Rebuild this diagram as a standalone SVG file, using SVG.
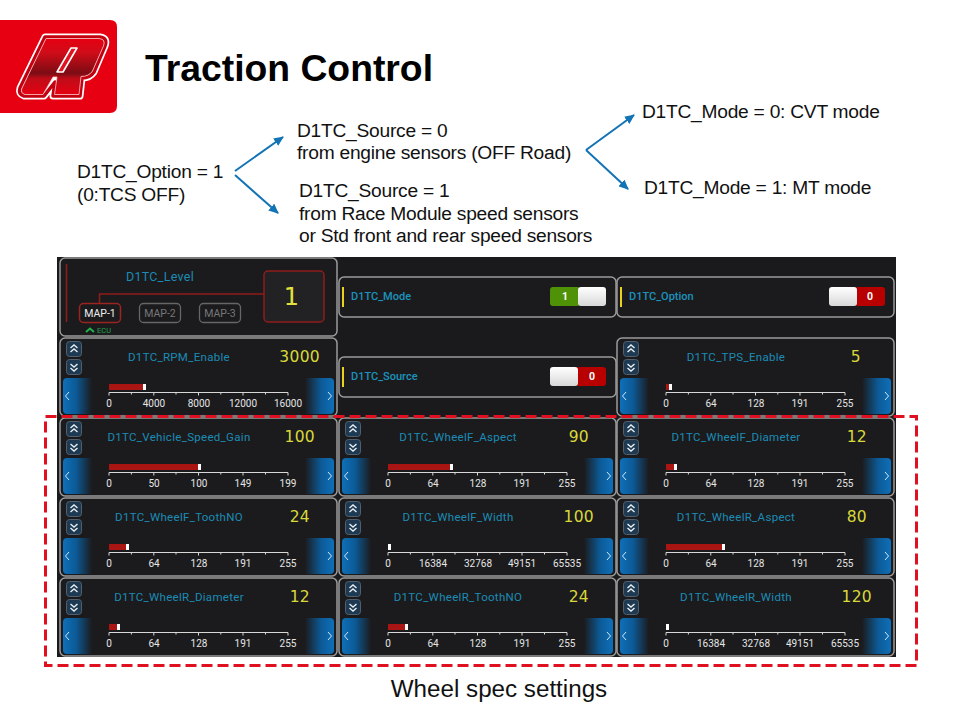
<svg xmlns="http://www.w3.org/2000/svg" width="960" height="720" viewBox="0 0 960 720">
<style>
.h{font-family:"Liberation Sans",Arial,sans-serif;font-size:19.2px;fill:#111;letter-spacing:-.25px}
.n{font-family:Roboto,"Liberation Sans",sans-serif;font-size:11.5px;fill:#1c8bb5;text-anchor:middle;letter-spacing:.3px}
.t{font-family:Roboto,"Liberation Sans",sans-serif;font-size:11px;font-weight:500;fill:#1c93bd}
.v{font-family:"DejaVu Sans",sans-serif;font-size:15.500px;fill:#d9d83a;text-anchor:end;letter-spacing:.3px}
.s{font-family:Roboto,"Liberation Sans",sans-serif;font-size:10px;fill:#e6e6e6;text-anchor:middle}
.f{fill:#1b1b1d;stroke:#9b9b9b;stroke-width:1.5}
.m{font-family:Roboto,"Liberation Sans",sans-serif;font-size:10.5px;text-anchor:middle}
.tg{font-family:Roboto,"Liberation Sans",sans-serif;font-size:10.5px;font-weight:700;fill:#fff;text-anchor:middle}
.bar{fill:#a81512}
.end{fill:#fff}
.arr{fill:none;stroke:#1273b5;stroke-width:2;marker-end:url(#ah)}
</style>
<defs>
<marker id="ah" markerWidth="10" markerHeight="9" refX="9" refY="4.500" orient="auto" markerUnits="userSpaceOnUse"><path d="M0 0L10 4.500L0 9Z" fill="#1273b5"/></marker>
<linearGradient id="gl" x1="0" x2="1" y1="0" y2="0"><stop offset="0" stop-color="#0f6fb8"/><stop offset=".45" stop-color="#0c5a96"/><stop offset="1" stop-color="#0d5a96" stop-opacity="0"/></linearGradient>
<linearGradient id="gr" x1="1" x2="0" y1="0" y2="0"><stop offset="0" stop-color="#0f6fb8"/><stop offset=".45" stop-color="#0c5a96"/><stop offset="1" stop-color="#0d5a96" stop-opacity="0"/></linearGradient>
<linearGradient id="sw" x1="0" x2="0" y1="0" y2="1"><stop offset="0" stop-color="#fff"/><stop offset="1" stop-color="#d8d8d8"/></linearGradient>
<linearGradient id="lg" x1="0" x2="0" y1="0" y2="1"><stop offset="0" stop-color="#e60012"/><stop offset=".25" stop-color="#d00c18"/><stop offset=".62" stop-color="#7c0c14"/><stop offset=".72" stop-color="#c00c18"/><stop offset="1" stop-color="#e60012"/></linearGradient>
<g id="chrome">
<rect class="f" x="0" y="0" width="277" height="78" rx="5"/>
<rect x="6.500" y="3.500" width="15" height="15" rx="3" fill="#1d3a52" stroke="#51606c"/>
<rect x="6.500" y="21.500" width="15" height="15" rx="3" fill="#1d3a52" stroke="#51606c"/>
<path d="M10.500 10L14 7L17.500 10M10.500 14L14 11L17.500 14M10.500 26L14 29L17.500 26M10.500 30L14 33L17.500 30" fill="none" stroke="#e8eef2" stroke-width="1.400"/>
<path d="M3 44Q3 40 7 40H32V76H7Q3 76 3 72Z" fill="url(#gl)"/>
<path d="M274 44Q274 40 270 40H245V76H270Q274 76 274 72Z" fill="url(#gr)"/>
<path d="M9 54L5.500 58L9 62M268 54L271.500 58L268 62" fill="none" stroke="#cfe6f5" stroke-width="1"/>
<path d="M49 54.500H228M49 54.500v3M71.400 54.500v2M93.800 54.500v3M116 54.500v2M138.500 54.500v3M160.800 54.500v2M183 54.500v3M205.500 54.500v2M228 54.500v3" fill="none" stroke="#d8d8d8" stroke-width="1"/>
</g>
</defs>
<rect width="960" height="720" fill="#fff"/>
<g id="logo">
<path d="M0 20H110Q117 20 117 27V106Q117 113 110 113H0Z" fill="#e60012"/>
<path d="M45 37H100Q108 38 105 46L94 72Q90 78 82 78L80 96H53L55 82L44 96H24Q18 94 20 88Z" fill="#fff" stroke="#fff" stroke-width="7" stroke-linejoin="round"/>
<path d="M45 37H100Q108 38 105 46L94 72Q90 78 82 78L80 96H53L55 82L44 96H24Q18 94 20 88Z" fill="#fff" stroke="#c40010" stroke-width="3.500" stroke-linejoin="round"/>
<path d="M46 38.500H99Q106 39 103.500 46L92.500 71Q89 76.500 81 76.500L79 94.500H54.500L57 77H53L43 94.500H25Q20 93 22 88Z" fill="url(#lg)" stroke="#f7c8c8" stroke-width=".8"/>
<path d="M71 48H77L63 72H57Z" fill="#e01420" stroke="#fff" stroke-width="1.600" stroke-linejoin="round"/>
</g>
<text id="title" x="145" y="81" font-family="'Liberation Sans',Arial,sans-serif" font-size="37.300" font-weight="700" fill="#000">Traction Control</text>
<g id="n-option"><text class="h" x="77" y="178">D1TC_Option = 1</text><text class="h" x="77" y="201">(0:TCS OFF)</text></g>
<g id="n-source0"><text class="h" x="297" y="137">D1TC_Source = 0</text><text class="h" x="297" y="159">from engine sensors (OFF Road)</text></g>
<g id="n-source1"><text class="h" x="299" y="197">D1TC_Source = 1</text><text class="h" x="299" y="220">from Race Module speed sensors</text><text class="h" x="299" y="242">or Std front and rear speed sensors</text></g>
<g id="n-mode0"><text class="h" x="642" y="118">D1TC_Mode = 0: CVT mode</text></g>
<g id="n-mode1"><text class="h" x="644" y="194">D1TC_Mode = 1: MT mode</text></g>
<g id="connectors">
<path class="arr" d="M235 171L283 137"/>
<path class="arr" d="M235 175L278 213"/>
<path class="arr" d="M586 150L634 115"/>
<path class="arr" d="M586 150L628 189"/>
</g>
<rect id="screen" x="57" y="257" width="839" height="400" fill="#1a1a1c"/>
<g id="p-level">
<rect class="f" x="60" y="258" width="277" height="78" rx="5"/>
<path d="M66.500 264V322M264 294H99.500V303" fill="none" stroke="#8f1d1a" stroke-width="1.500"/>
<rect x="264" y="271" width="60" height="51" rx="4" fill="#222224" stroke="#8f1d1a" stroke-width="1.500"/>
<rect x="79.500" y="303.500" width="41" height="19" rx="4" fill="#1b1b1d" stroke="#9c2420" stroke-width="1.500"/>
<rect x="139.500" y="303.500" width="41" height="19" rx="4" fill="#1b1b1d" stroke="#666" stroke-width="1.300"/>
<rect x="199.500" y="303.500" width="41" height="19" rx="4" fill="#1b1b1d" stroke="#666" stroke-width="1.300"/>
<text class="n" x="160" y="281" style="font-size:12.500px">D1TC_Level</text>
<text class="v" x="299" y="305" style="font-size:24px;fill:#e3e23c;letter-spacing:0">1</text>
<text class="m" x="100" y="317" fill="#eee">MAP-1</text>
<text class="m" x="160" y="317" fill="#777">MAP-2</text>
<text class="m" x="220" y="317" fill="#777">MAP-3</text>
<path d="M86 332L90 328.500L94 332" fill="none" stroke="#22b24c" stroke-width="2"/>
<text x="97" y="333" font-family="Roboto,sans-serif" font-size="7.500" fill="#22a24c">ECU</text>
</g>
<g id="p-mode">
<rect class="f" x="339" y="277" width="277" height="40" rx="5"/>
<rect x="342" y="287" width="2" height="20" fill="#e8d21d"/>
<text class="t" x="351" y="300">D1TC_Mode</text>
<rect x="550" y="287" width="30" height="19" rx="3" fill="#4f9208"/>
<rect x="578" y="287" width="28" height="19" rx="3" fill="url(#sw)"/>
<text class="tg" x="565" y="300">1</text>
</g>
<g id="p-option">
<rect class="f" x="617" y="277" width="277" height="40" rx="5"/>
<rect x="620" y="287" width="2" height="20" fill="#e8d21d"/>
<text class="t" x="629" y="300">D1TC_Option</text>
<rect x="855" y="287" width="30" height="19" rx="3" fill="#b80000"/>
<rect x="829" y="287" width="28" height="19" rx="3" fill="url(#sw)"/>
<text class="tg" x="870" y="300">0</text>
</g>
<g id="p-source">
<rect class="f" x="339" y="357" width="277" height="40" rx="5"/>
<rect x="342" y="367" width="2" height="20" fill="#e8d21d"/>
<text class="t" x="351" y="380">D1TC_Source</text>
<rect x="576" y="367" width="30" height="19" rx="3" fill="#b80000"/>
<rect x="550" y="367" width="28" height="19" rx="3" fill="url(#sw)"/>
<text class="tg" x="592" y="380">0</text>
</g>
<g id="p-rpm" transform="translate(60 338)"><use href="#chrome"/><text class="n" x="119" y="23">D1TC_RPM_Enable</text><text class="v" x="260" y="24">3000</text><rect class="bar" x="49" y="46" width="34" height="6"/><rect class="end" x="83" y="46" width="3" height="6"/><text class="s" x="49" y="69">0</text><text class="s" x="94" y="69">4000</text><text class="s" x="139" y="69">8000</text><text class="s" x="183" y="69">12000</text><text class="s" x="228" y="69">16000</text></g>
<g id="p-tps" transform="translate(617 338)"><use href="#chrome"/><text class="n" x="119" y="23">D1TC_TPS_Enable</text><text class="v" x="244" y="24">5</text><rect class="bar" x="49" y="46" width="3" height="6"/><rect class="end" x="52" y="46" width="3" height="6"/><text class="s" x="49" y="69">0</text><text class="s" x="94" y="69">64</text><text class="s" x="139" y="69">128</text><text class="s" x="183" y="69">191</text><text class="s" x="228" y="69">255</text></g>
<g id="p-gain" transform="translate(60 418)"><use href="#chrome"/><text class="n" x="119" y="23">D1TC_Vehicle_Speed_Gain</text><text class="v" x="255" y="24">100</text><rect class="bar" x="49" y="46" width="89" height="6"/><rect class="end" x="138" y="46" width="3" height="6"/><text class="s" x="49" y="69">0</text><text class="s" x="94" y="69">50</text><text class="s" x="139" y="69">100</text><text class="s" x="183" y="69">149</text><text class="s" x="228" y="69">199</text></g>
<g id="p-faspect" transform="translate(339 418)"><use href="#chrome"/><text class="n" x="119" y="23">D1TC_WheelF_Aspect</text><text class="v" x="250" y="24">90</text><rect class="bar" x="49" y="46" width="62" height="6"/><rect class="end" x="111" y="46" width="3" height="6"/><text class="s" x="49" y="69">0</text><text class="s" x="94" y="69">64</text><text class="s" x="139" y="69">128</text><text class="s" x="183" y="69">191</text><text class="s" x="228" y="69">255</text></g>
<g id="p-fdiam" transform="translate(617 418)"><use href="#chrome"/><text class="n" x="119" y="23">D1TC_WheelF_Diameter</text><text class="v" x="250" y="24">12</text><rect class="bar" x="49" y="46" width="8" height="6"/><rect class="end" x="57" y="46" width="3" height="6"/><text class="s" x="49" y="69">0</text><text class="s" x="94" y="69">64</text><text class="s" x="139" y="69">128</text><text class="s" x="183" y="69">191</text><text class="s" x="228" y="69">255</text></g>
<g id="p-ftooth" transform="translate(60 498)"><use href="#chrome"/><text class="n" x="119" y="23">D1TC_WheelF_ToothNO</text><text class="v" x="250" y="24">24</text><rect class="bar" x="49" y="46" width="17" height="6"/><rect class="end" x="66" y="46" width="3" height="6"/><text class="s" x="49" y="69">0</text><text class="s" x="94" y="69">64</text><text class="s" x="139" y="69">128</text><text class="s" x="183" y="69">191</text><text class="s" x="228" y="69">255</text></g>
<g id="p-fwidth" transform="translate(339 498)"><use href="#chrome"/><text class="n" x="119" y="23">D1TC_WheelF_Width</text><text class="v" x="255" y="24">100</text><rect class="end" x="49" y="46" width="3" height="6"/><text class="s" x="49" y="69">0</text><text class="s" x="94" y="69">16384</text><text class="s" x="139" y="69">32768</text><text class="s" x="183" y="69">49151</text><text class="s" x="228" y="69">65535</text></g>
<g id="p-raspect" transform="translate(617 498)"><use href="#chrome"/><text class="n" x="119" y="23">D1TC_WheelR_Aspect</text><text class="v" x="250" y="24">80</text><rect class="bar" x="49" y="46" width="56" height="6"/><rect class="end" x="105" y="46" width="3" height="6"/><text class="s" x="49" y="69">0</text><text class="s" x="94" y="69">64</text><text class="s" x="139" y="69">128</text><text class="s" x="183" y="69">191</text><text class="s" x="228" y="69">255</text></g>
<g id="p-rdiam" transform="translate(60 578)"><use href="#chrome"/><text class="n" x="119" y="23">D1TC_WheelR_Diameter</text><text class="v" x="250" y="24">12</text><rect class="bar" x="49" y="46" width="8" height="6"/><rect class="end" x="57" y="46" width="3" height="6"/><text class="s" x="49" y="69">0</text><text class="s" x="94" y="69">64</text><text class="s" x="139" y="69">128</text><text class="s" x="183" y="69">191</text><text class="s" x="228" y="69">255</text></g>
<g id="p-rtooth" transform="translate(339 578)"><use href="#chrome"/><text class="n" x="119" y="23">D1TC_WheelR_ToothNO</text><text class="v" x="250" y="24">24</text><rect class="bar" x="49" y="46" width="17" height="6"/><rect class="end" x="66" y="46" width="3" height="6"/><text class="s" x="49" y="69">0</text><text class="s" x="94" y="69">64</text><text class="s" x="139" y="69">128</text><text class="s" x="183" y="69">191</text><text class="s" x="228" y="69">255</text></g>
<g id="p-rwidth" transform="translate(617 578)"><use href="#chrome"/><text class="n" x="119" y="23">D1TC_WheelR_Width</text><text class="v" x="255" y="24">120</text><rect class="end" x="49" y="46" width="3" height="6"/><text class="s" x="49" y="69">0</text><text class="s" x="94" y="69">16384</text><text class="s" x="139" y="69">32768</text><text class="s" x="183" y="69">49151</text><text class="s" x="228" y="69">65535</text></g>
<rect id="wheel-frame" x="45.500" y="416.500" width="871" height="249" fill="none" stroke="#e01020" stroke-width="3" stroke-dasharray="11 5"/>
<text id="wheel-label" x="499" y="697" font-family="'Liberation Sans',Arial,sans-serif" font-size="24.200" fill="#111" text-anchor="middle">Wheel spec settings</text>
</svg>
